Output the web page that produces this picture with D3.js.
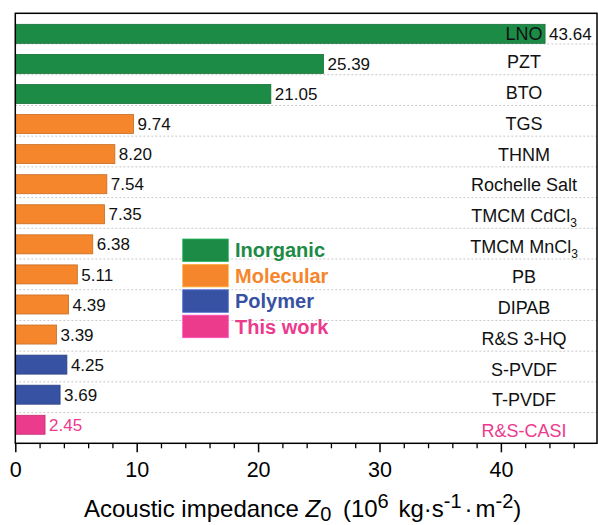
<!DOCTYPE html>
<html>
<head>
<meta charset="utf-8">
<script src="https://cdn.jsdelivr.net/npm/d3@7"></script>
<style>
  html, body { margin: 0; padding: 0; background: #fff; }
  svg { display: block; font-family: "Liberation Sans", Arial, Helvetica, sans-serif; }
</style>
</head>
<body>
<svg id="chart" width="598" height="525"></svg>
<script>
// ---- data ----
const names = ["LNO", "PZT", "BTO", "TGS", "THNM", "Rochelle Salt", "TMCM CdCl", "TMCM MnCl", "PB", "DIPAB", "R&S 3-HQ", "S-PVDF", "T-PVDF", "R&S-CASI"];
const nameSubs = ["", "", "", "", "", "", "3", "3", "", "", "", "", "", ""];
const values = [43.64, 25.39, 21.05, 9.74, 8.20, 7.54, 7.35, 6.38, 5.11, 4.39, 3.39, 4.25, 3.69, 2.45];
const groups = ["Inorganic", "Inorganic", "Inorganic", "Molecular", "Molecular", "Molecular", "Molecular", "Molecular", "Molecular", "Molecular", "Molecular", "Polymer", "Polymer", "This work"];
const groupNames = ["Inorganic", "Molecular", "Polymer", "This work"];
const groupColors = ["#1c8b46", "#f5862b", "#3852a3", "#ec3a8d"];
const xMajorTicks = [0, 10, 20, 30, 40];
const xMinorTicks = [2, 4, 6, 8, 12, 14, 16, 18, 22, 24, 26, 28, 32, 34, 36, 38, 42, 44, 46];

const rows = names.map((n, i) => ({ name: n, sub: nameSubs[i], value: values[i], group: groups[i] }));

const svg = d3.select("#chart");
const L = 15.3, R = 597, T = 13.3, B = 443.3;

const color = d3.scaleOrdinal().domain(groupNames).range(groupColors);
const x = d3.scaleLinear().domain([0, 48]).range([L, 598]);
const yGrid = d3.scaleBand().domain(names).range([T, B]).padding(0);
const yBar = d3.scaleBand().domain(names).range([18.8, 439.8]).paddingInner(0.368).paddingOuter(0.184);

// grid lines (dotted, between rows)
svg.append("g").selectAll("line")
  .data(names.slice(1))
  .join("line")
  .attr("x1", L).attr("x2", R)
  .attr("y1", d => yGrid(d)).attr("y2", d => yGrid(d))
  .attr("stroke", "#c8c8c8").attr("stroke-width", 1).attr("stroke-dasharray", "2,2");

// bars
svg.append("g").selectAll("rect")
  .data(rows)
  .join("rect")
  .attr("x", x(0))
  .attr("y", d => yBar(d.name))
  .attr("width", d => x(d.value) - x(0))
  .attr("height", yBar.bandwidth())
  .attr("fill", d => color(d.group))
  .attr("stroke", d => d3.color(color(d.group)).darker(0.6))
  .attr("stroke-width", 0.8);

// value labels
svg.append("g").selectAll("text")
  .data(rows)
  .join("text")
  .attr("x", d => x(d.value) + 4)
  .attr("y", d => yBar(d.name) + yBar.bandwidth() / 2 + 6.1)
  .attr("font-size", 17)
  .attr("fill", d => d.group === "This work" ? color(d.group) : "#111")
  .text(d => d.value.toFixed(2));

// category labels
const labelX = 524;
const cat = svg.append("g").selectAll("text")
  .data(rows)
  .join("text")
  .attr("x", labelX)
  .attr("y", d => (x(d.value) > labelX - 40 ? yBar(d.name) + yBar.bandwidth() / 2 : yGrid(d.name) + yGrid.bandwidth() / 2 + 2.5) + 6.5)
  .attr("text-anchor", "middle")
  .attr("font-size", 18)
  .attr("fill", d => d.group === "This work" ? color(d.group) : "#111");
cat.append("tspan").text(d => d.name);
cat.append("tspan").attr("font-size", 12).attr("dy", 5).text(d => d.sub);

// x axis
const gx = svg.append("g").attr("transform", `translate(0,${B})`);
gx.call(d3.axisBottom(x).tickValues(xMajorTicks).tickSize(9).tickPadding(9).tickSizeOuter(0).tickFormat(d3.format("d")));
gx.select(".domain").remove();
gx.selectAll(".tick line").attr("stroke", "#000").attr("stroke-width", 1.5);
gx.selectAll(".tick text").attr("font-size", 21.5).attr("fill", "#000").attr("font-family", "Liberation Sans, Arial, sans-serif");
const gxm = svg.append("g").attr("transform", `translate(0,${B})`);
gxm.call(d3.axisBottom(x).tickValues(xMinorTicks).tickSize(5).tickFormat(""));
gxm.select(".domain").remove();
gxm.selectAll(".tick line").attr("stroke", "#000").attr("stroke-width", 1.3);

// frame
svg.append("rect")
  .attr("x", L).attr("y", T).attr("width", R - L).attr("height", B - T)
  .attr("fill", "none").attr("stroke", "#000").attr("stroke-width", 1.5);

// axis title
const title = svg.append("text").attr("x", 84).attr("y", 516.5).attr("font-size", 24).attr("fill", "#000");
title.append("tspan").text("Acoustic impedance ");
title.append("tspan").attr("font-style", "italic").text("Z");
title.append("tspan").attr("font-size", 20).attr("dy", 4).text("0");
title.append("tspan").attr("dy", -4).attr("dx", 5).text(" (10");
title.append("tspan").attr("font-size", 20).attr("dy", -9).text("6");
title.append("tspan").attr("dy", 9).attr("dx", 3).text(" kg·s");
title.append("tspan").attr("font-size", 20).attr("dy", -9).text("-1");
title.append("tspan").attr("dy", 9).attr("dx", 3).text("·");
title.append("tspan").attr("dx", 3).text("m");
title.append("tspan").attr("font-size", 20).attr("dy", -9).text("-2");
title.append("tspan").attr("dy", 9).text(")");

// legend
const legend = svg.append("g");
const legY = d3.scaleBand().domain(groupNames).range([237.8, 339.4]);
const lg = legend.selectAll("g").data(groupNames).join("g")
  .attr("transform", d => `translate(0,${legY(d)})`);
lg.append("rect")
  .attr("x", 182.7).attr("y", 1.2).attr("width", 45.6).attr("height", 22.5)
  .attr("fill", d => color(d))
  .attr("stroke", d => d3.color(color(d)).brighter(0.8)).attr("stroke-width", 0.8);
lg.append("text")
  .attr("x", 235).attr("y", 12.45 + 7.2)
  .attr("font-size", 20).attr("font-weight", "bold")
  .attr("fill", d => color(d))
  .text(d => d);
</script>
</body>
</html>
